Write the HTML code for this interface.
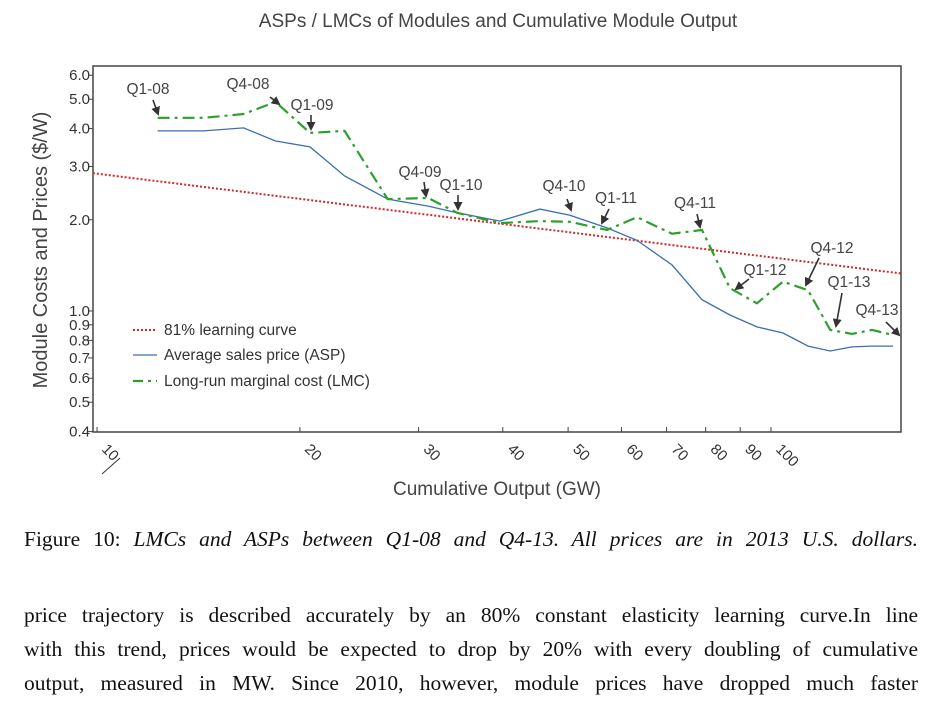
<!DOCTYPE html>
<html><head><meta charset="utf-8"><style>
body{margin:0;background:#fff;width:946px;height:702px;overflow:hidden;position:relative;font-family:"Liberation Sans",sans-serif}
svg{position:absolute;left:0;top:0}
.cap{position:absolute;left:24px;width:894px;font-family:"Liberation Serif",serif;font-size:21.5px;color:#111;text-align:justify;text-align-last:justify;white-space:nowrap}
</style></head><body>
<svg id="chart" width="946" height="510"></svg>
<div class="cap" style="top:527px">Figure 10: <i>LMCs and ASPs between Q1-08 and Q4-13. All prices are in 2013 U.S. dollars.</i></div>
<div class="cap" style="top:603px">price trajectory is described accurately by an 80% constant elasticity learning curve.In line</div>
<div class="cap" style="top:637px">with this trend, prices would be expected to drop by 20% with every doubling of cumulative</div>
<div class="cap" style="top:671px">output, measured in MW. Since 2010, however, module prices have dropped much faster</div>
<script>
const cumOutput=[12.3,14.4,16.5,18.4,20.7,23.3,27.0,31.0,34.2,39.6,45.4,50.3,57.1,63.3,71.3,79.0,86.9,95.3,104.2,113.5,122.4,131.9,141.2,151.7];
const aspValues=[3.93,3.93,4.02,3.64,3.48,2.79,2.34,2.22,2.11,1.98,2.17,2.07,1.88,1.71,1.42,1.09,0.97,0.886,0.846,0.766,0.738,0.761,0.766,0.766];
const lmcValues=[4.34,4.34,4.47,4.90,3.87,3.93,2.34,2.36,2.11,1.95,1.98,1.97,1.85,2.04,1.80,1.85,1.19,1.06,1.25,1.17,0.866,0.84,0.866,0.833];
const curveX=[9.86,156];
const curveY=[2.85,1.33];
const yTicks=[0.4,0.5,0.6,0.7,0.8,0.9,1.0,2.0,3.0,4.0,5.0,6.0];
const xTicks=[10,20,30,40,50,60,70,80,90,100];
const annLabels=["Q1-08","Q4-08","Q1-09","Q4-09","Q1-10","Q4-10","Q1-11","Q4-11","Q1-12","Q4-12","Q1-13","Q4-13"];
const X0=93,X1=901,Y0=66,Y1=432;
// annotation layout: [textX,textY,arrowX1,arrowY1,arrowX2,arrowY2]
const annPos=[[148,94,153,100,158,114],[248,89,270,97,279,104],[312,110,311,115,311,129],[420,177,424,182,426,196],[461,190,458,195,458,209],[564,191,567,199,571,210],[616,203,609,209,602,223],[695,208,697,214,700,227],[765,275,749,279,736,289],[832,253,819,258,806,285],[849,287,842,293,836,326],[877,315,886,322,899,335]];
const xs=v=>97+674*Math.log10(v/10);
const ys=v=>311-303*Math.log10(v);
const S='http://www.w3.org/2000/svg',svg=document.getElementById('chart');
function mk(t,a,p){const e=document.createElementNS(S,t);for(const k in a)e.setAttribute(k,a[k]);(p||svg).appendChild(e);return e;}
const defs=mk('defs',{});
const mkr=mk('marker',{id:'ah',markerWidth:9,markerHeight:9,refX:7,refY:4.5,orient:'auto',markerUnits:'userSpaceOnUse'},defs);
mk('path',{d:'M0,0 L9,4.5 L0,9 Z',fill:'#333'},mkr);
let t=mk('text',{x:498,y:27,'text-anchor':'middle','font-size':19,fill:'#444'});t.textContent='ASPs / LMCs of Modules and Cumulative Module Output';


const fr=mk('rect',{x:X0,y:Y0,width:X1-X0,height:Y1-Y0,fill:'none',stroke:'#444','stroke-width':1.5});


yTicks.forEach(v=>{const y=ys(v);mk('line',{x1:X0-5,x2:X0,y1:y,y2:y,stroke:'#444'});
const l=mk('text',{x:X0-3,y:y+5,'text-anchor':'end','font-size':15,fill:'#333'});l.textContent=v.toFixed(1);

});
xTicks.forEach(v=>{const x=xs(v);mk('line',{x1:x,x2:x,y1:Y1,y2:Y1-5,stroke:'#444'});
const l=mk('text',{x:x+4,y:Y1+18,'font-size':15,fill:'#333',transform:`rotate(45 ${x+4} ${Y1+18})`});l.textContent=v;

});
mk('line',{x1:102,y1:474,x2:120,y2:458,stroke:'#333','stroke-width':1});
t=mk('text',{x:497,y:495,'text-anchor':'middle','font-size':19,fill:'#444'});t.textContent='Cumulative Output (GW)';


t=mk('text',{x:0,y:0,'text-anchor':'middle','font-size':20,fill:'#444',transform:'translate(47 250) rotate(-90)'});t.textContent='Module Costs and Prices ($/W)';


const cl=mk('line',{x1:xs(curveX[0]),y1:ys(curveY[0]),x2:xs(curveX[1]),y2:ys(curveY[1]),stroke:'#d62728','stroke-width':2,'stroke-dasharray':'2,2'});


const pts=a=>a.map((v,i)=>xs(cumOutput[i]).toFixed(1)+','+ys(v).toFixed(1)).join(' ');
const asp=mk('polyline',{points:pts(aspValues),fill:'none',stroke:'#3a6fb0','stroke-width':1.3});


const lmc=mk('polyline',{points:pts(lmcValues),fill:'none',stroke:'#2ca02c','stroke-width':2.2,'stroke-dasharray':'12,5,3,5'});


annLabels.forEach((lab,k)=>{const p=annPos[k];
const ar=mk('line',{x1:p[2],y1:p[3],x2:p[4],y2:p[5],stroke:'#333','stroke-width':1.6,'marker-end':'url(#ah)'});


const tx=mk('text',{x:p[0],y:p[1],'text-anchor':'middle','font-size':15.5,fill:'#444'});tx.textContent=lab;

});
const leg=[['81% learning curve','#d62728','2,2',2,330],['Average sales price (ASP)','#3a6fb0','',1.3,355],['Long-run marginal cost (LMC)','#2ca02c','10,5,3,5',2.2,381]];
leg.forEach(e=>{const ln=mk('line',{x1:133,x2:157,y1:e[4],y2:e[4],stroke:e[1],'stroke-width':e[3],'stroke-dasharray':e[2]});


const tx=mk('text',{x:164,y:e[4]+5,'font-size':15.5,fill:'#333'});tx.textContent=e[0];

});
</script>
</body></html>
